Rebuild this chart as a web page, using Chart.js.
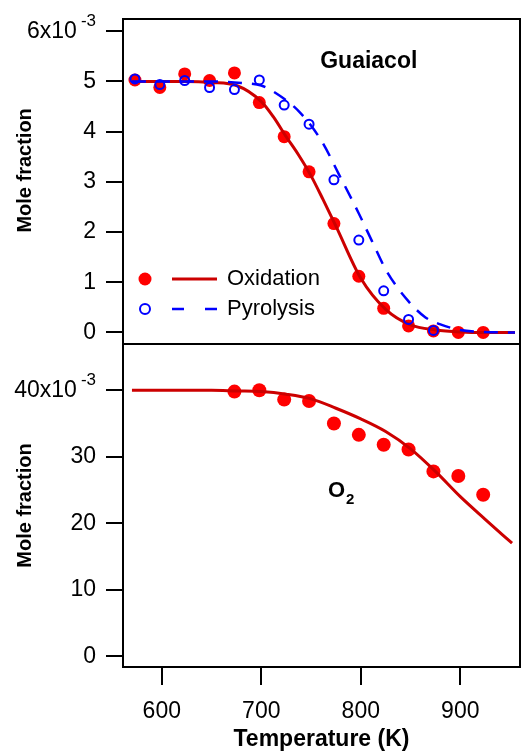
<!DOCTYPE html>
<html>
<head>
<meta charset="utf-8">
<script src="https://cdn.jsdelivr.net/npm/chart.js@4.4.1/dist/chart.umd.min.js"></script>
<style>
html, body { margin: 0; padding: 0; background: #fff; }
#wrap { position: relative; width: 521px; height: 753px; overflow: hidden; }
#top { position: absolute; left: 0; top: 0; }
#bottom { position: absolute; left: 0; top: 340px; }
</style>
</head>
<body>
<div id="wrap">
  <canvas id="top" width="521" height="345"></canvas>
  <canvas id="bottom" width="521" height="413"></canvas>
</div>
<script>
// measured points (K)
const tempPts = [573, 598, 623, 648, 673, 698, 723, 748, 773, 798, 823, 848, 873, 898, 923];
// guaiacol mole fraction, x10^-3
const guaiacolOx = [5.03, 4.88, 5.15, 5.02, 5.17, 4.58, 3.90, 3.20, 2.17, 1.12, 0.48, 0.13, 0.03, 0.00, 0.00];
const pyroTemps = [573, 598, 623, 648, 673, 698, 723, 748, 773, 798, 823, 848, 873];
const guaiacolPyro = [5.05, 4.94, 5.02, 4.88, 4.84, 5.03, 4.53, 4.15, 3.04, 1.84, 0.83, 0.26, 0.04];

// model curves
const oxFitT = [570, 600, 625, 650, 675, 700, 712, 725, 737, 750, 762, 775, 800, 825, 850, 875, 900, 925, 955];
const oxFitV = [5.00, 5.00, 5.00, 4.98, 4.92, 4.60, 4.30, 3.90, 3.55, 3.12, 2.65, 2.12, 1.08, 0.46, 0.15, 0.05, 0.01, 0.00, 0.00];
const pyroFitT = [570, 600, 650, 680, 700, 712, 738, 761, 778, 798, 811, 826, 848, 865, 880, 900, 925, 955];
const pyroFitV = [5.00, 5.00, 5.00, 4.97, 4.92, 4.80, 4.40, 3.80, 3.15, 2.37, 1.83, 1.22, 0.62, 0.30, 0.16, 0.05, 0.01, 0.00];

// O2 mole fraction, x10^-3
const o2Temps = [673, 698, 723, 748, 773, 798, 823, 848, 873, 898, 923];
const o2Ox = [39.8, 40.0, 38.6, 38.4, 35.0, 33.3, 31.8, 31.1, 27.8, 27.1, 24.3];
const o2FitT = [570, 600, 650, 675, 700, 725, 750, 775, 800, 825, 850, 875, 900, 925, 952];
const o2FitV = [40.0, 40.0, 40.0, 39.9, 39.8, 39.4, 38.7, 37.3, 35.7, 33.8, 31.2, 27.8, 24.0, 20.6, 17.0];

// tick labels
const tempTicks = [600, 700, 800, 900];
const guaiacolTicks = [0, 1, 2, 3, 4, 5, 6];
const o2Ticks = [0, 10, 20, 30, 40];

const fam = "'Liberation Sans', Arial, sans-serif";
const redDot = '#ff0000';
const redLine = '#cc0000';
const blue = '#0000ff';
const tickLen = 17, tickPad = 10;

function pts(xs, ys) {
  return xs.map((x, i) => ({x: x, y: ys[i]}));
}

// frame, exponent on the top tick, panel label, legend
const panelDeco = {
  id: 'panelDeco',
  afterDraw(chart, args, opts) {
    const ctx = chart.ctx;
    const a = chart.chartArea;
    const sx = chart.scales.x, sy = chart.scales.y;
    ctx.save();
    ctx.strokeStyle = '#000';
    ctx.lineWidth = 2;
    ctx.strokeRect(a.left, a.top, a.right - a.left, a.bottom - a.top);

    // -3 exponent
    ctx.fillStyle = '#000';
    ctx.font = '17px ' + fam;
    ctx.textAlign = 'right';
    ctx.textBaseline = 'middle';
    ctx.fillText('-3', a.left - tickLen - tickPad, sy.getPixelForValue(opts.expTick) - 10);

    // panel name
    if (opts.name) {
      ctx.font = 'bold 23px ' + fam;
      ctx.textAlign = 'center';
      ctx.fillText(opts.name, sx.getPixelForValue(opts.nameAt[0]), sy.getPixelForValue(opts.nameAt[1]));
    }
    if (opts.species) {
      const px = sx.getPixelForValue(opts.speciesAt[0]);
      const py = sy.getPixelForValue(opts.speciesAt[1]);
      ctx.textAlign = 'left';
      ctx.textBaseline = 'alphabetic';
      ctx.font = 'bold 22px ' + fam;
      ctx.fillText(opts.species, px, py);
      const w = ctx.measureText(opts.species).width;
      ctx.font = 'bold 15px ' + fam;
      ctx.fillText(opts.sub, px + w + 1, py + 7);
    }

    // legend
    if (opts.legend) {
      const rows = [a.bottom - 65, a.bottom - 35];
      ctx.textAlign = 'left';
      ctx.textBaseline = 'middle';
      ctx.font = '22px ' + fam;
      // oxidation
      ctx.fillStyle = redDot;
      ctx.beginPath();
      ctx.arc(a.left + 22, rows[0], 6.5, 0, Math.PI * 2);
      ctx.fill();
      ctx.strokeStyle = redLine;
      ctx.lineWidth = 3;
      ctx.beginPath();
      ctx.moveTo(a.left + 49, rows[0]);
      ctx.lineTo(a.left + 94, rows[0]);
      ctx.stroke();
      ctx.fillStyle = '#000';
      ctx.fillText('Oxidation', a.left + 104, rows[0]);
      // pyrolysis
      ctx.strokeStyle = blue;
      ctx.lineWidth = 2;
      ctx.beginPath();
      ctx.arc(a.left + 22, rows[1], 5, 0, Math.PI * 2);
      ctx.stroke();
      ctx.lineWidth = 2.5;
      ctx.setLineDash([12, 21]);
      ctx.beginPath();
      ctx.moveTo(a.left + 49, rows[1]);
      ctx.lineTo(a.left + 94, rows[1]);
      ctx.stroke();
      ctx.setLineDash([]);
      ctx.fillText('Pyrolysis', a.left + 104, rows[1]);
    }
    ctx.restore();
  }
};

function yAxis(min, max, tickList, expTick, titleText) {
  return {
    type: 'linear',
    min: min,
    max: max,
    afterFit: function (s) { s.width = 123; s.paddingTop = 0; s.paddingBottom = 0; },
    afterBuildTicks: function (s) { s.ticks = tickList.map(v => ({value: v})); },
    border: {display: false},
    grid: {drawOnChartArea: false, drawTicks: true, tickLength: tickLen, lineWidth: 2, color: '#000'},
    ticks: {
      padding: tickPad,
      color: '#000',
      font: {family: fam, size: 23},
      callback: function (v) { return v === expTick ? v + 'x10   ' : String(v); }
    },
    title: {
      display: true,
      text: titleText,
      color: '#000',
      font: {family: fam, size: 20, weight: 'bold'},
      padding: {top: 13, bottom: 0}
    }
  };
}

const baseOpts = {
  responsive: false,
  animation: false,
  events: [],
  elements: {line: {cubicInterpolationMode: 'monotone'}},
};

// top: guaiacol
new Chart(document.getElementById('top'), {
  type: 'scatter',
  data: {
    datasets: [
      {label: 'Pyrolysis model', data: pts(pyroFitT, pyroFitV), showLine: true,
       borderColor: blue, borderWidth: 2.5, borderDash: [14, 10], pointRadius: 0},
      {label: 'Pyrolysis', data: pts(pyroTemps, guaiacolPyro), pointRadius: 4.5,
       pointBorderWidth: 2, pointBorderColor: blue, pointBackgroundColor: 'rgba(0,0,0,0)'},
      {label: 'Oxidation model', data: pts(oxFitT, oxFitV), showLine: true,
       borderColor: redLine, borderWidth: 3, pointRadius: 0},
      {label: 'Oxidation', data: pts(tempPts, guaiacolOx), pointRadius: 6.5,
       pointBorderWidth: 0, pointBackgroundColor: redDot}
    ]
  },
  options: Object.assign({}, baseOpts, {
    layout: {autoPadding: false, padding: {top: 19, right: 1, bottom: 1, left: 0}},
    scales: {
      x: {type: 'linear', min: 561, max: 960, display: false},
      y: yAxis(-0.23, 6.245, guaiacolTicks, 6, '    Mole fraction')
    },
    plugins: {
      legend: {display: false},
      tooltip: {enabled: false},
      panelDeco: {expTick: 6, name: 'Guaiacol', nameAt: [808, 5.39], legend: true}
    }
  }),
  plugins: [panelDeco]
});

// bottom: O2
new Chart(document.getElementById('bottom'), {
  type: 'scatter',
  data: {
    datasets: [
      {label: 'O2 model', data: pts(o2FitT, o2FitV), showLine: true,
       borderColor: redLine, borderWidth: 3, pointRadius: 0},
      {label: 'O2', data: pts(o2Temps, o2Ox), pointRadius: 7,
       pointBorderWidth: 0, pointBackgroundColor: redDot}
    ]
  },
  options: Object.assign({}, baseOpts, {
    layout: {autoPadding: false, padding: {top: 4, right: 1, bottom: 0, left: 0}},
    scales: {
      x: {
        type: 'linear', min: 561, max: 960,
        afterFit: function (s) { s.height = 86; s.paddingLeft = 0; s.paddingRight = 0; },
        afterBuildTicks: function (s) { s.ticks = tempTicks.map(v => ({value: v})); },
        border: {display: false},
        grid: {drawOnChartArea: false, drawTicks: true, tickLength: 18, lineWidth: 2, color: '#000'},
        ticks: {padding: 13, maxRotation: 0, autoSkip: false, color: '#000', font: {family: fam, size: 23}},
        title: {
          display: true, text: 'Temperature (K)', color: '#000',
          font: {family: fam, size: 23, weight: 'bold'},
          padding: {top: 0, bottom: 0}
        }
      },
      y: yAxis(-1.61, 46.96, o2Ticks, 40, 'Mole fraction')
    },
    plugins: {
      legend: {display: false},
      tooltip: {enabled: false},
      panelDeco: {expTick: 40, species: 'O', sub: '2', speciesAt: [767, 23.95]}
    }
  }),
  plugins: [panelDeco]
});
</script>
</body>
</html>
